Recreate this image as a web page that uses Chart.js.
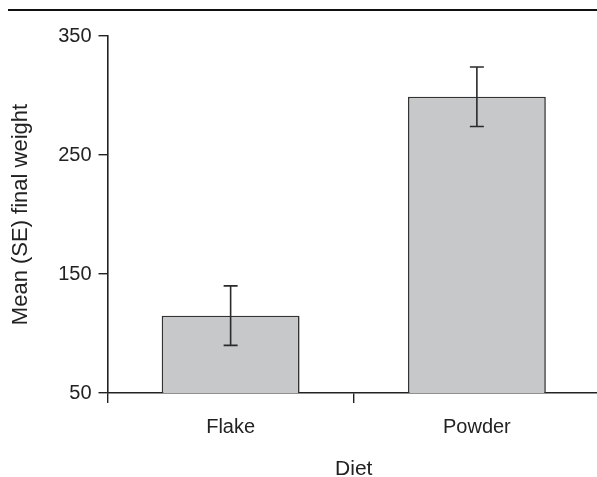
<!DOCTYPE html>
<html><head><meta charset="utf-8">
<script src="https://cdn.jsdelivr.net/npm/chart.js@4/dist/chart.umd.min.js"></script>
<style>html,body{margin:0;padding:0;overflow:hidden;background:#fff}#wrap{width:600px;height:477px;position:relative}</style>
</head><body><div id="wrap"><canvas id="c"></canvas></div>
<script>
const categories = ['Flake', 'Powder'];
const means = [115, 299];
const stdErrors = [25, 25];
const yTicks = [50, 150, 250, 350];
const yTitle = 'Mean (SE) final weight';
const xTitle = 'Diet';

const FONT = '"Liberation Sans", Arial, Helvetica, sans-serif';
const INK = '#222';

const errorBars = {
  id: 'errorBars',
  afterDatasetsDraw(chart) {
    const meta = chart.getDatasetMeta(0);
    const y = chart.scales.y;
    const ctx = chart.ctx;
    ctx.save();
    ctx.strokeStyle = '#2a2a2a';
    ctx.lineWidth = 1.6;
    meta.data.forEach((bar, i) => {
      const x = bar.x;
      const top = y.getPixelForValue(means[i] + stdErrors[i]);
      const bot = y.getPixelForValue(means[i] - stdErrors[i]);
      const cap = 7;
      ctx.beginPath();
      ctx.moveTo(x, top); ctx.lineTo(x, bot);
      ctx.moveTo(x - cap, top); ctx.lineTo(x + cap, top);
      ctx.moveTo(x - cap, bot); ctx.lineTo(x + cap, bot);
      ctx.stroke();
    });
    ctx.restore();
  }
};

const topRule = {
  id: 'topRule',
  afterDraw(chart) {
    const ctx = chart.ctx;
    ctx.save();
    ctx.strokeStyle = '#111';
    ctx.lineWidth = 2;
    ctx.beginPath();
    ctx.moveTo(8, 10); ctx.lineTo(chart.width, 10);
    ctx.stroke();
    ctx.restore();
  }
};

new Chart(document.getElementById('c'), {
  type: 'bar',
  data: {
    labels: categories,
    datasets: [{
      data: means,
      backgroundColor: '#c7c8ca',
      borderColor: '#333',
      borderWidth: 1.6,
      barPercentage: 0.56,
      categoryPercentage: 1.0
    }]
  },
  options: {
    responsive: true,
    maintainAspectRatio: false,
    animation: false,
    layout: { padding: { top: 36, left: 0, right: 0, bottom: 0 } },
    plugins: { legend: { display: false }, tooltip: { enabled: false } },
    scales: {
      x: {
        grid: { offset: true, drawOnChartArea: false, drawTicks: true, tickLength: 10, color: INK, lineWidth: 1.4 },
        border: { display: true, color: INK, width: 1.6 },
        ticks: { color: INK, font: { family: FONT, size: 20 }, padding: 12 },
        title: { display: true, text: xTitle, color: INK, font: { family: FONT, size: 21 }, padding: { top: 16, bottom: -5 } },
        afterFit(s) { s.height = 84; }
      },
      y: {
        min: 50, max: 350,
        afterBuildTicks(s) { s.ticks = yTicks.map(v => ({ value: v })); },
        grid: { drawOnChartArea: false, drawTicks: true, tickLength: 9, color: INK, lineWidth: 1.4 },
        border: { display: true, color: INK, width: 1.6 },
        ticks: { color: INK, font: { family: FONT, size: 20 }, padding: 7 },
        title: { display: true, text: yTitle, color: INK, font: { family: FONT, size: 22 }, padding: { top: 8, bottom: 8 } },
        afterFit(s) { s.width = 107.5; }
      }
    }
  },
  plugins: [errorBars, topRule]
});
</script></body></html>
